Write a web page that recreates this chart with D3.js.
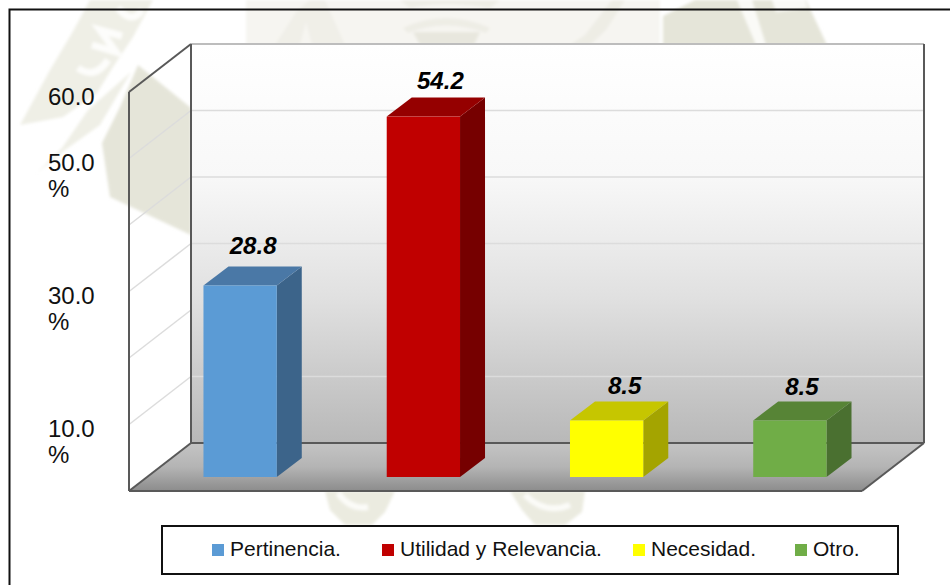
<!DOCTYPE html>
<html><head><meta charset="utf-8">
<script src="https://cdn.jsdelivr.net/npm/d3@7/dist/d3.min.js"></script>
<style>html,body{margin:0;padding:0;background:#fff}svg{display:block}</style></head>
<body><svg id="c" width="950" height="585"></svg>
<script>
const categories = ["Pertinencia.","Utilidad y Relevancia.","Necesidad.","Otro."];
const values = [28.8,54.2,8.5,8.5];
const valueLabels = ["28.8","54.2","8.5","8.5"];
const frontColors = ["#5b9bd5","#c00000","#ffff00","#70ad47"];
const topColors = ["#4a78a6","#950000","#c6c600","#578436"];
const sideColors = ["#3c648a","#760000","#a4a400","#4a7030"];
const gridTicks = [0,10,20,30,40,50,60];
const tickLabels = [[60,["60.0"]],[50,["50.0","%"]],[30,["30.0","%"]],[10,["10.0","%"]]];

const svg = d3.select("#c");
const defs = svg.append("defs");
const wall = defs.append("linearGradient").attr("id","wall").attr("x1",0).attr("x2",0).attr("y1",0).attr("y2",1);
[[0,"#ffffff"],[0.33,"#f8f8f8"],[0.54,"#e8e8e8"],[0.64,"#e0e0e0"],[1,"#b8b8b8"]].forEach(s=>wall.append("stop").attr("offset",s[0]).attr("stop-color",s[1]));
const floorG = defs.append("linearGradient").attr("id","floor").attr("x1",0).attr("x2",0).attr("y1",0).attr("y2",1);
floorG.append("stop").attr("offset",0).attr("stop-color","#c4c4c4");
floorG.append("stop").attr("offset",0.5).attr("stop-color","#b4b4b4");
floorG.append("stop").attr("offset",1).attr("stop-color","#8c8c8c");
defs.append("filter").attr("id","soft").append("feGaussianBlur").attr("stdDeviation",1.5);

// faint crest watermark behind the chart
const wm = svg.append("g").attr("filter","url(#soft)");
const band = "#efefe6", olive = "#e5e5d9", pale = "#f6f5f1";
[
 ["M90,0L72,33L50,70L20,125L63,117L97,93L113,67L133,37L153,0Z",band],
 ["M131,72L100,125L65,150L37,173L62,148L88,110Z",band],
 ["M138,65L191,108L191,235L110,197L102,143L120,107Z",olive],
 ["M246,0L660,0L660,45L246,45Z",pale],
 ["M275,45L296,12L310,0L325,0L345,45Z","#f0efe8"],
 ["M300,45L306,22L312,45Z",pale],
 ["M403,28Q445,8 490,28L486,33Q445,18 408,33Z","#eeede5"],
 ["M413,32L480,32L474,45L420,45Z","#e8e7de"],
 ["M400,0L500,0L490,8Q445,0 410,8Z","#eeede5"],
 ["M570,45L585,35L612,0L625,0L606,30L590,45Z","#eeede5"],
 ["M663,45L663,16L695,0L806,0L827,45Z",olive],
 ["M737,0L752,0L766,45L756,45Z","#fafaf7"],
 ["M772,0L805,0L808,8L776,12Z","#fafaf7"],
 ["M325,491L395,491L385,512L372,525L345,525L330,510Z","#ebebe0"],
 ["M510,491L585,491L582,512L565,525L535,525L522,510Z","#ebebe0"],
].forEach(([d,f])=>wm.append("path").attr("d",d).attr("fill",f));
wm.append("path").attr("d","M338,493Q350,510 368,507M525,495Q545,515 570,505").attr("fill","none").attr("stroke","#fbfbf8").attr("stroke-width",6);
wm.append("path").attr("d","M78,68Q95,80 108,60M92,45L116,52L100,30L122,36M118,8Q132,25 142,10")
  .attr("fill","none").attr("stroke","#fdfdfb").attr("stroke-width",7);

const dx=62, dy=-48, bdx=25, bdy=-19;
const y = d3.scaleLinear().domain([0,60]).range([491,92]);
const x = d3.scaleBand().domain(categories).range([148.5,881.5]).paddingInner(0.6).paddingOuter(0.3);
const poly = pts => pts.map(p=>p.join(",")).join(" ");
const x0=129, x1=862;
const labelShiftX=[13,17,18,12], labelShiftY=[-12,-9,-7,-6];

// frame (right and bottom edges lie outside the picture)
svg.append("rect").attr("x",9.5).attr("y",9.5).attr("width",960).attr("height",600).attr("fill","none").attr("stroke","#111").attr("stroke-width",2);

// walls
svg.append("rect").attr("x",x0+dx).attr("y",y(60)+dy).attr("width",x1-x0).attr("height",y(0)-y(60)).attr("fill","url(#wall)");
svg.append("polygon").attr("points",poly([[x0,y(0)],[x0+dx,y(0)+dy],[x1+dx,y(0)+dy],[x1,y(0)]])).attr("fill","url(#floor)");

// gridlines
gridTicks.filter(t=>t>0).forEach(t=>{
  svg.append("line").attr("x1",x0).attr("y1",y(t)).attr("x2",x0+dx).attr("y2",y(t)+dy).attr("stroke",t===60?"none":"#dcdcdc").attr("stroke-width",1.5);
  svg.append("line").attr("x1",x0+dx).attr("y1",y(t)+dy).attr("x2",x1+dx).attr("y2",y(t)+dy).attr("stroke",t===60?"#bdbdbd":"#dcdcdc").attr("stroke-width",t===60?2:1.5);
});

// edges
const edge = "#595959";
[[x0,y(60),x0,y(0)],[x0,y(60),x0+dx,y(60)+dy],[x0+dx,y(60)+dy,x0+dx,y(0)+dy],[x0,y(0),x0+dx,y(0)+dy],
 [x0+dx,y(0)+dy,x1+dx,y(0)+dy],[x0,y(0),x1,y(0)],[x1,y(0),x1+dx,y(0)+dy],[x1+dx,y(0)+dy,x1+dx,y(60)+dy]].forEach(l=>{
  svg.append("line").attr("x1",l[0]).attr("y1",l[1]).attr("x2",l[2]).attr("y2",l[3]).attr("stroke",edge).attr("stroke-width",2);
});

// bars
const baseDy=-14;
const g = svg.append("g").selectAll("g").data(categories).join("g");
g.each(function(c,i){
  const s=d3.select(this), L=x(c), R=L+x.bandwidth(), B=y(0)+baseDy, T=y(values[i])+baseDy;
  s.append("polygon").attr("points",poly([[R,T],[R+bdx,T+bdy],[R+bdx,B+bdy],[R,B]])).attr("fill",sideColors[i]);
  s.append("polygon").attr("points",poly([[L,T],[L+bdx,T+bdy],[R+bdx,T+bdy],[R,T]])).attr("fill",topColors[i]);
  s.append("rect").attr("x",L).attr("y",T).attr("width",R-L).attr("height",B-T).attr("fill",frontColors[i]);
  s.append("text").attr("x",(L+R)/2+labelShiftX[i]).attr("y",T+bdy+labelShiftY[i]).attr("text-anchor","middle")
   .attr("font-family","'Liberation Sans'").attr("font-size",24).attr("font-weight","bold").attr("font-style","italic").attr("fill","#000").text(valueLabels[i]);
});

// y tick labels
tickLabels.forEach(([v,lines])=>{
  const t=svg.append("text").attr("font-family","'Liberation Sans'").attr("font-size",24).attr("fill","#111");
  lines.forEach((ln,k)=>t.append("tspan").attr("x",48).attr("y",y(v)+12.5+k*26).text(ln));
});

// legend
svg.append("rect").attr("x",162).attr("y",526).attr("width",736).attr("height",48).attr("fill","#fff").attr("stroke","#111").attr("stroke-width",2);
const legendX=[212,382,633,795];
categories.forEach((c,i)=>{
  svg.append("rect").attr("x",legendX[i]).attr("y",544).attr("width",12).attr("height",12).attr("fill",frontColors[i]);
  svg.append("text").attr("x",legendX[i]+18).attr("y",556).attr("font-family","'Liberation Sans'").attr("font-size",21).attr("fill","#111").text(c);
});
</script></body></html>
